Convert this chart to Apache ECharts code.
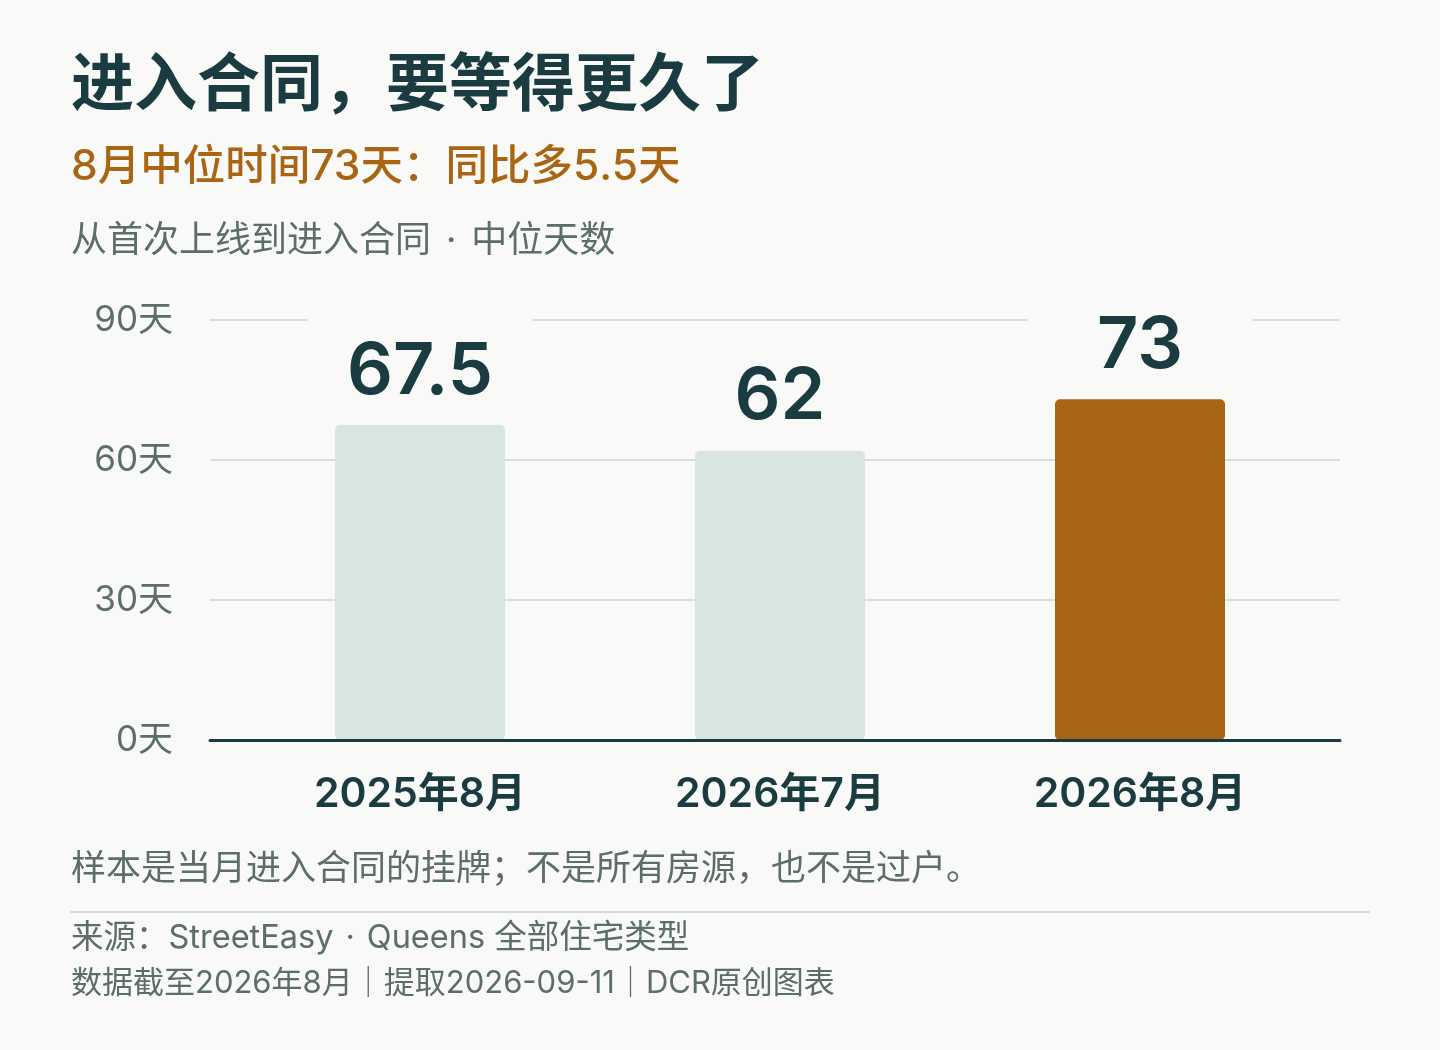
<!DOCTYPE html>
<html>
<head>
<meta charset="utf-8">
<script src="https://cdn.jsdelivr.net/npm/echarts@6/dist/echarts.min.js"></script>
<style>
html,body{margin:0;padding:0;background:#f9f9f7;}
#chart{width:1440px;height:1050px;}
</style>
</head>
<body>
<div id="chart"></div>
<script>
const categories = ['2025年8月', '2026年7月', '2026年8月'];
const values = [67.5, 62, 73];
const highlighted = [false, false, true];
const yTickValues = [0, 30, 60, 90];
const yUnit = '天';

const titleText = '进入合同，要等得更久了';
const subtitleText = '8月中位时间73天：同比多5.5天';
const descParts = ['从首次上线到进入合同', '中位天数'];
const noteText = '样本是当月进入合同的挂牌；不是所有房源，也不是过户。';
const sourceParts1 = ['来源：StreetEasy', 'Queens 全部住宅类型'];
const sourceLine2 = '数据截至2026年8月｜提取2026-09-11｜DCR原创图表';

const BG = '#f9f9f7';
const DARK = '#1a3c40';
const GRAY = '#5b6e68';
const ACCENT = '#a86514';
const LIGHT = '#d9e6df';
const FONT = 'Inter, "Noto Sans CJK SC", sans-serif';

const chart = echarts.init(document.getElementById('chart'));

function textTitle(text, top, size, color, weight, dotPad) {
  const ts = { fontFamily: FONT, fontSize: size, lineHeight: size, color: color, fontWeight: weight };
  if (dotPad) {
    ts.rich = {
      t: { fontFamily: FONT, fontSize: size, lineHeight: size, color: color, fontWeight: weight },
      d: { fontFamily: FONT, fontSize: size, lineHeight: size, color: color, fontWeight: weight, padding: [0, dotPad] }
    };
  }
  return { text: text, left: 71, top: top, padding: 0, textStyle: ts };
}

function dotted(parts) {
  return '{t|' + parts[0] + '}{d|·}{t|' + parts[1] + '}';
}

chart.setOption({
  backgroundColor: BG,
  animation: false,
  title: [
    textTitle(titleText, 55, 63, DARK, 'bold'),
    textTitle(subtitleText, 146, 42.5, ACCENT, 500),
    textTitle(dotted(descParts), 223, 36, GRAY, 'normal', 15),
    textTitle(noteText, 852, 35, GRAY, 'normal'),
    textTitle(dotted(sourceParts1), 922, 32.5, GRAY, 'normal', 12),
    textTitle(sourceLine2, 968, 31, GRAY, 'normal')
  ],
  graphic: [{
    type: 'line', shape: { x1: 70, y1: 912, x2: 1370, y2: 912 },
    style: { stroke: '#d6dbd8', lineWidth: 2 }
  }],
  grid: [
    { left: 210, right: 100, top: 320, bottom: 310 },
    { left: 240, right: 120, top: 320, bottom: 310 }
  ],
  xAxis: [
    {
      gridIndex: 0, type: 'value', min: 0, max: 1, z: 10,
      axisLabel: { show: false }, axisTick: { show: false }, splitLine: { show: false },
      axisLine: { show: true, lineStyle: { color: DARK, width: 3 } }
    },
    {
      gridIndex: 1, type: 'category', data: categories,
      axisLine: { show: false }, axisTick: { show: false },
      axisLabel: { margin: 34, fontFamily: FONT, fontSize: 41, fontWeight: 600, color: DARK }
    }
  ],
  yAxis: [
    {
      gridIndex: 0, type: 'value', min: yTickValues[0], max: yTickValues[yTickValues.length - 1], interval: 30,
      axisLine: { show: false }, axisTick: { show: false },
      axisLabel: { margin: 37, fontFamily: FONT, fontSize: 35, color: GRAY, formatter: v => v + yUnit },
      splitLine: { show: true, lineStyle: { color: '#d6dfda', width: 2 } }
    },
    {
      gridIndex: 1, type: 'value', min: yTickValues[0], max: yTickValues[yTickValues.length - 1], interval: 30,
      show: false, splitLine: { show: false }
    }
  ],
  series: [{
    type: 'bar',
    xAxisIndex: 1, yAxisIndex: 1,
    barWidth: 170,
    data: values.map((v, i) => ({
      value: v,
      itemStyle: { color: highlighted[i] ? ACCENT : LIGHT, borderRadius: 5 }
    })),
    label: {
      show: true, position: 'top', distance: 8,
      fontFamily: FONT, fontSize: 72, lineHeight: 72, fontWeight: 600, color: DARK,
      backgroundColor: BG, width: 224, align: 'center',
      padding: [27, 0, 9, 0],
      formatter: p => String(p.value)
    }
  }]
});
</script>
</body>
</html>
